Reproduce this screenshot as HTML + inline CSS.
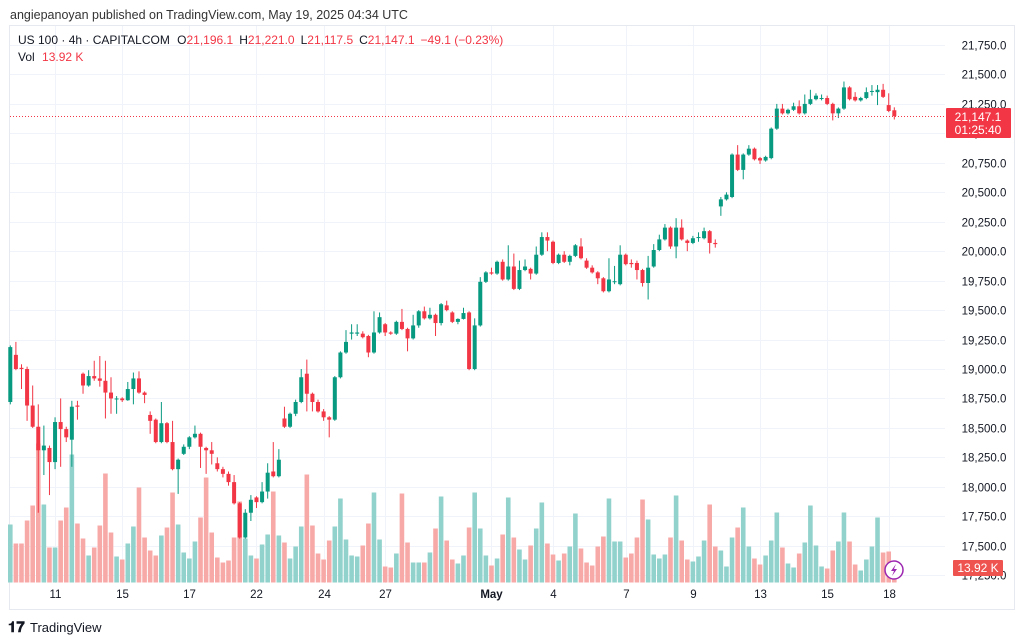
<!DOCTYPE html>
<html><head><meta charset="utf-8">
<style>
body{margin:0;width:1024px;height:642px;background:#fff;overflow:hidden;font-family:"Liberation Sans",sans-serif;}
svg{position:absolute;left:0;top:0}
</style></head>
<body>
<svg id="chart" width="1024" height="642">
<text x="10" y="19" font-size="12.5" fill="#333">angiepanoyan published on TradingView.com, May 19, 2025 04:34 UTC</text>
<rect x="9.5" y="25.5" width="1005" height="584" fill="none" stroke="#e6e9ef"/>
<g id="grid"></g>
<g id="vol"></g>
<g id="candles"></g>
<line x1="10" x2="945" y1="116.5" y2="116.5" stroke="#f23645" stroke-dasharray="1,2"/>
<g id="yaxis"></g>
<g id="xaxis"></g>
<g font-size="12">
<text x="18" y="44" fill="#131722">US 100 · 4h · CAPITALCOM <tspan dx="4">O</tspan><tspan fill="#f23645">21,196.1</tspan><tspan dx="6">H</tspan><tspan fill="#f23645">21,221.0</tspan><tspan dx="6">L</tspan><tspan fill="#f23645">21,117.5</tspan><tspan dx="6">C</tspan><tspan fill="#f23645">21,147.1</tspan><tspan dx="6" fill="#f23645">−49.1 (−0.23%)</tspan></text>
<text x="18" y="61" fill="#131722">Vol <tspan dx="4" fill="#f23645">13.92 K</tspan></text>
</g>
<g>
<rect x="946" y="108" width="65" height="30" fill="#f23645" rx="1"/>
<text x="978" y="121" font-size="12" fill="#fff" text-anchor="middle">21,147.1</text>
<text x="978" y="134" font-size="12" fill="#fff" text-anchor="middle">01:25:40</text>
</g>
<g>
<rect x="953" y="560" width="50" height="16" fill="#ef5350" rx="1"/>
<text x="978" y="572" font-size="12" fill="#fff" text-anchor="middle">13.92 K</text>
</g>
<g>
<circle cx="894" cy="570" r="9" fill="#fff" stroke="#9c27b0" stroke-width="1.5"/>
<path d="M896 564 L891 571 L894 571 L892 576 L897 569 L894 569 Z" fill="#9c27b0"/>
</g>
<g>
<text x="8" y="632" font-size="15" font-weight="bold" fill="#131722">𝟏𝟕</text>
<text x="30" y="632" font-size="13" fill="#131722">TradingView</text>
</g>
</svg>
<script>
const opens=[18720,19120,19010,19000,18690,18510,18310,18330,18210,18550,18490,18400,18690,18960,18860,18940,18920,18900,18800,18750,18750,18735,18830,18920,18800,18610,18570,18380,18540,18380,18150,18280,18340,18420,18450,18330,18310,18200,18150,18110,18040,17860,17570,17780,17910,17870,17960,18130,18090,18580,18510,18620,18720,18960,18790,18720,18640,18590,18570,18930,19140,19300,19300,19300,19280,19140,19310,19380,19310,19300,19400,19340,19260,19370,19490,19430,19460,19390,19540,19480,19400,19425,19480,19000,19370,19740,19820,19810,19910,19760,19870,19680,19840,19850,19810,19970,20120,20080,19900,19970,19910,19960,20040,19920,19860,19820,19770,19660,19740,19720,19970,19900,19900,19840,19730,19870,20010,20100,20200,20040,20200,20090,20070,20120,20110,20170,20070,20380,20440,20460,20820,20690,20820,20870,20790,20770,20790,21040,21210,21170,21200,21230,21170,21250,21290,21300,21300,21250,21170,21210,21390,21310,21280,21300,21360,21350,21370,21240,21196];
const closes=[19186,19000,19000,18690,18510,18310,18350,18210,18550,18490,18420,18680,18680,18860,18940,18920,18900,18800,18750,18750,18735,18830,18920,18800,18780,18560,18380,18540,18380,18150,18230,18340,18420,18450,18340,18310,18280,18150,18110,18040,17860,17570,17780,17890,17870,17960,18120,18090,18230,18510,18620,18720,18930,18790,18720,18640,18590,18570,18930,19140,19230,19310,19310,19270,19140,19310,19440,19310,19300,19400,19340,19260,19370,19490,19430,19460,19390,19550,19500,19400,19425,19475,19000,19370,19740,19820,19810,19910,19760,19870,19680,19840,19870,19810,19970,20120,20090,19900,19970,19910,19960,20050,19940,19860,19820,19770,19660,19760,19745,19970,19890,19890,19840,19730,19860,20010,20100,20200,20040,20200,20100,20070,20110,20120,20170,20070,20060,20440,20480,20820,20690,20820,20870,20780,20770,20800,21040,21210,21170,21200,21230,21170,21250,21290,21320,21300,21250,21170,21210,21390,21290,21280,21300,21350,21360,21370,21310,21190,21147.1];
const highs=[19200,19230,19040,19020,18860,18700,18520,18350,18590,18750,18510,18730,18730,18970,18990,19070,19110,19070,18930,18770,18760,18890,18970,18980,18810,18640,18580,18720,18550,18560,18240,18360,18430,18520,18460,18340,18380,18250,18170,18130,18100,17870,17810,17930,17920,18040,18200,18380,18320,18680,18630,18740,19000,19080,18800,18740,18660,18600,18940,19150,19330,19380,19380,19320,19290,19490,19480,19390,19320,19410,19510,19350,19460,19500,19530,19520,19470,19560,19580,19490,19430,19520,19490,19430,19780,19830,19860,19920,19930,20050,19980,19920,19930,19860,20040,20160,20160,20090,19980,20000,19970,20060,20110,19940,19880,19830,19780,19940,19875,20050,19980,19930,19920,19850,19960,20060,20140,20230,20210,20280,20270,20100,20130,20160,20200,20180,20100,20460,20500,20830,20900,20830,20900,20880,20800,20810,21050,21250,21250,21210,21260,21280,21330,21370,21340,21330,21320,21260,21220,21440,21400,21350,21310,21390,21410,21410,21420,21340,21221];
const lows=[18700,18990,18830,18560,18500,17780,18100,17930,18150,18170,18380,18170,18570,18790,18850,18900,18850,18580,18620,18620,18720,18730,18700,18790,18710,18450,18370,18370,18370,18140,17940,18270,18320,18410,18160,18110,18190,18130,18080,18010,17850,17560,17560,17710,17820,17860,17900,18080,18080,18500,18500,18600,18710,18640,18640,18630,18560,18420,18560,18920,19130,19250,19280,19260,19100,19130,19300,19280,19290,19290,19330,19150,19250,19350,19420,19420,19280,19370,19490,19390,19380,19420,18990,18990,19360,19730,19800,19800,19750,19750,19670,19670,19830,19760,19800,19960,20000,19890,19890,19900,19880,19950,19930,19850,19810,19720,19650,19650,19720,19710,19880,19860,19760,19700,19590,19860,20000,20090,20020,19940,20090,20000,20060,20080,20100,19980,20030,20300,20430,20450,20680,20610,20810,20770,20740,20760,20780,21030,21160,21160,21190,21160,21160,21240,21280,21280,21240,21110,21130,21200,21280,21270,21270,21290,21320,21240,21300,21180,21117.5];
const volumes=[58,39,39,62,77,139,78,35,35,62,75,128,59,44,27,35,57,109,50,26,23,39,56,95,45,32,27,47,55,90,58,30,24,41,65,105,50,25,20,22,45,81,44,27,24,38,48,91,47,40,24,36,56,108,57,29,23,42,56,84,43,27,26,37,59,90,43,16,15,29,89,40,20,20,20,30,54,86,42,23,19,27,55,90,54,27,17,24,48,85,45,33,23,37,54,80,39,28,22,29,36,69,34,20,17,36,46,84,41,41,25,29,45,83,63,28,24,28,45,87,42,23,21,26,42,78,36,32,16,45,55,75,36,24,18,27,42,70,35,19,15,29,40,77,37,16,14,32,41,70,41,18,12,23,36,65,30,31,14];
const priceTicks=[21750,21500,21250,21000,20750,20500,20250,20000,19750,19500,19250,19000,18750,18500,18250,18000,17750,17500,17250];
const dateLabels=["11","15","17","22","24","27","May","4","7","9","13","15","18"];
const dateIndex=[8,20,32,44,56,67,86,97,110,122,134,146,157];

const NS="http://www.w3.org/2000/svg";
const P0=21750, Y0=45, K=0.11782;
function yScale(p){return Y0+(P0-p)*K;}
function xScale(i){return 10.3+5.595*i;}
const volBase=582.5, volK=1.0;
function vScale(v){return v*volK;}
function mk(tag,attrs,parent){const e=document.createElementNS(NS,tag);for(const k in attrs)e.setAttribute(k,attrs[k]);parent.appendChild(e);return e;}
const grid=document.getElementById('grid'),yaxis=document.getElementById('yaxis'),xaxis=document.getElementById('xaxis');
priceTicks.forEach(p=>{
  const y=Math.round(yScale(p))+0.5;
  const l=mk('line',{x1:10,x2:945,y1:y,y2:y,stroke:'#f0f3fa'},grid);
  
  
  const t=mk('text',{x:984,y:y+4,'font-size':11.5,fill:'#131722','text-anchor':'middle'},yaxis);
  t.textContent=p.toLocaleString('en-US')+'.0';
  
  
});
dateLabels.forEach((d,k)=>{
  const x=Math.round(xScale(dateIndex[k]))+0.5;
  const l=mk('line',{x1:x,x2:x,y1:26,y2:583,stroke:'#f0f3fa'},grid);
  
  
  const t=mk('text',{x:x,y:598,'font-size':11.5,fill:'#131722','text-anchor':'middle','font-weight':d==='May'?'bold':'normal'},xaxis);
  t.textContent=d;
  
  
});
const vg=document.getElementById('vol'),cg=document.getElementById('candles');
for(let i=0;i<opens.length;i++){
  const up=closes[i]>=opens[i];
  const x=xScale(i);
  const h=vScale(volumes[i]);
  const vb=mk('rect',{x:x-2.3,y:volBase-h,width:4.6,height:h,fill:up?'#92d2cc':'#f7a9a7'},vg);
  
  
  const col=up?'#089981':'#f23645';
  const w=mk('line',{x1:x,x2:x,y1:yScale(highs[i]),y2:yScale(lows[i]),stroke:col,'stroke-width':1},cg);
  
  
  const top=yScale(Math.max(opens[i],closes[i])),bot=yScale(Math.min(opens[i],closes[i]));
  const b=mk('rect',{x:x-2,y:top,width:4,height:Math.max(1,bot-top),fill:col},cg);
  
  
}
</script>
</body></html>
